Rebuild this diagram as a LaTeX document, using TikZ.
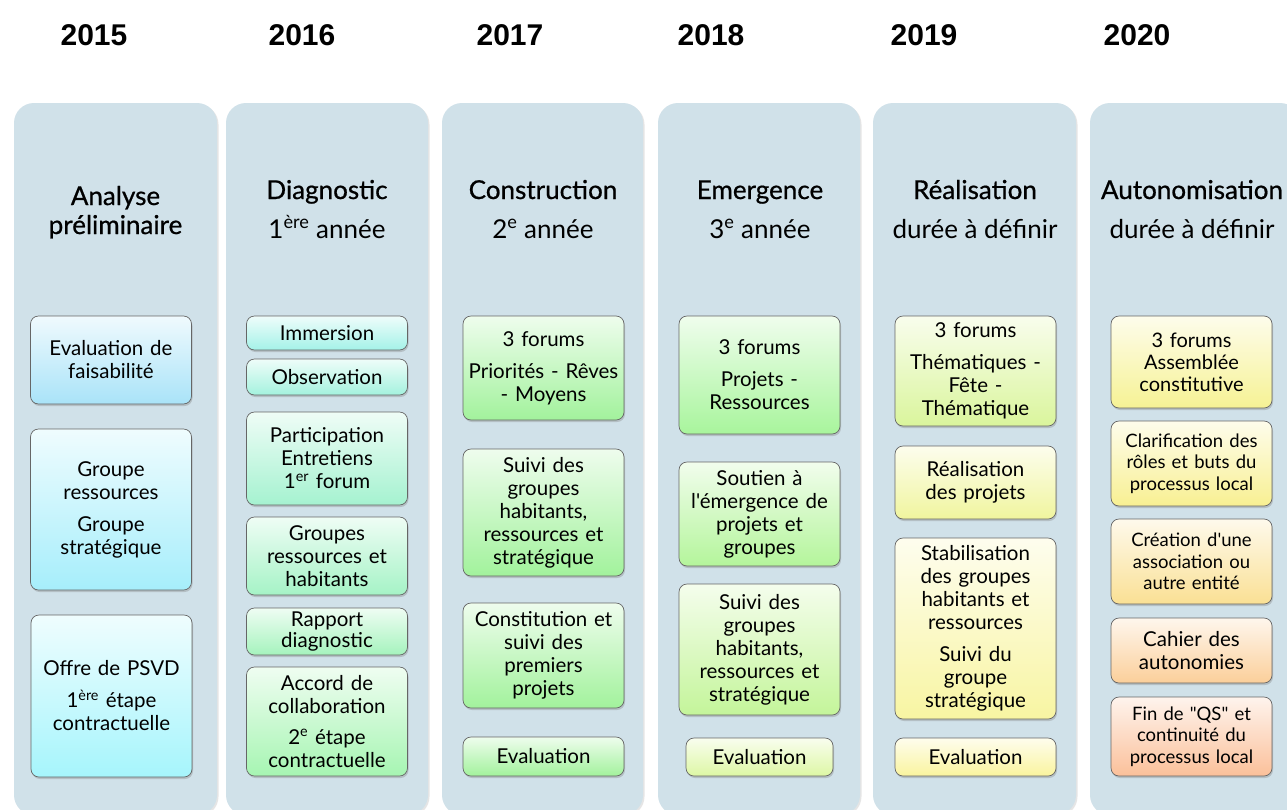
\documentclass[tikz,border=0pt]{standalone}
\usepackage{fontspec}
\setmainfont{Lato}[Ligatures=TeXOff]
\newfontfamily\yearfont{Liberation Sans}
\newfontfamily\titlefont{Lato}[FakeBold=0.7]
\usetikzlibrary{shadows}
\definecolor{panelc}{HTML}{D0E1E9}
\tikzset{
  panel/.style={fill=panelc, rounded corners=20pt, draw=none,
    drop shadow={shadow xshift=1.5pt, shadow yshift=-1.5pt, opacity=0.2}},
  bx/.style={draw=black!60, line width=0.7pt, rounded corners=8pt, align=center,
    inner xsep=2pt, inner ysep=1pt, text width=157pt,
    font=\fontsize{20.5}{23}\selectfont,
    drop shadow={shadow xshift=1pt, shadow yshift=-2pt, opacity=0.35}},
  sm/.style={font=\fontsize{18.5}{21.5}\selectfont},
  g/.style={/utils/exec={\definecolor{boxc}{HTML}{#1}}, top color=boxc!18!white, bottom color=boxc},
  yr/.style={font=\yearfont\bfseries\fontsize{30}{30}\selectfont, anchor=center},
  ttl/.style={font=\titlefont\fontsize{26}{29}\selectfont, anchor=base},
  sub/.style={font=\fontsize{26}{29}\selectfont, anchor=base},
}
\begin{document}
\begin{tikzpicture}[x=1pt, y=-1pt]
\useasboundingbox (0,0) rectangle (1287,809);
\fill[white] (0,0) rectangle (1287,809);
% years
\node[yr] (y1) at (94,35) {2015};
\node[yr] (y2) at (302,35) {2016};
\node[yr] (y3) at (510,35) {2017};
\node[yr] (y4) at (711,35) {2018};
\node[yr] (y5) at (924,35) {2019};
\node[yr] (y6) at (1137,35) {2020};
% panels
\path[panel] (14,103) rectangle (217,815);
\path[panel] (226,103) rectangle (428,815);
\path[panel] (442,103) rectangle (643,815);
\path[panel] (658,103) rectangle (860,815);
\path[panel] (873,103) rectangle (1076,815);
\path[panel] (1090,103) rectangle (1300,815);
% titles
\node[ttl] (t1a) at (115.5,205) {Analyse};
\node[ttl] (t1b) at (115.5,234) {préliminaire};
\node[ttl] (t2) at (327,199) {Diagnostic};
\node[sub] (s2) at (327,238) {1\textsuperscript{ère} année};
\node[ttl] (t3) at (543,199) {Construction};
\node[sub] (s3) at (543,238) {2\textsuperscript{e} année};
\node[ttl] (t4) at (760,199) {Emergence};
\node[sub] (s4) at (760,238) {3\textsuperscript{e} année};
\node[ttl] (t5) at (975,199) {Réalisation};
\node[sub] (s5) at (975,238) {durée à définir};
\node[ttl] (t6) at (1192,199) {Autonomisation};
\node[sub] (s6) at (1192,238) {durée à définir};
% column 1
\node[bx, g=A9E3F8, minimum height=88pt] (a1) at (111,360) {Evaluation de\\faisabilité};
\node[bx, g=A6EEFB, minimum height=161pt] (a2) at (111,509.5) {Groupe\\ressources\\[9pt]Groupe\\stratégique};
\node[bx, g=A6F5FC, minimum height=162pt] (a3) at (111.5,696) {Offre de PSVD\\[9pt]1\textsuperscript{ère} étape\\contractuelle};
% column 2
\node[bx, g=A4F2E8, minimum height=34pt] (b1) at (327,333) {Immersion};
\node[bx, g=A4F2DE, minimum height=36pt] (b2) at (327,377) {Observation};
\node[bx, g=A5F2D0, minimum height=93pt] (b3) at (327,458.5) {Participation\\Entretiens\\1\textsuperscript{er} forum};
\node[bx, g=A5F3C6, minimum height=78pt] (b4) at (327,556) {Groupes\\ressources et\\habitants};
\node[bx, g=A5F3BD, minimum height=47pt, font=\fontsize{20.5}{21}\selectfont] (b5) at (327,631.5) {Rapport\\diagnostic};
\node[bx, g=A6F5B2, minimum height=109pt] (b6) at (327,721.5) {Accord de\\collaboration\\[8pt]2\textsuperscript{e} étape\\contractuelle};
% column 3
\node[bx, g=A2F29C, minimum height=104pt] (c1) at (543.5,368) {3 forums\\[9pt]Priorités - Rêves\\- Moyens};
\node[bx, g=A2F29C, minimum height=127pt] (c2) at (543.5,512.5) {Suivi des\\groupes\\habitants,\\ressources et\\stratégique};
\node[bx, g=A2F29C, minimum height=105pt] (c3) at (543.5,655.5) {Constitution et\\suivi des\\premiers\\projets};
\node[bx, g=A2F29C, minimum height=39pt] (c4) at (543.5,756.5) {Evaluation};
% column 4
\node[bx, g=A8F59C, minimum height=118pt] (d1) at (759.5,375) {3 forums\\[9pt]Projets -\\Ressources};
\node[bx, g=B4F59B, minimum height=104pt] (d2) at (759.5,514) {Soutien à\\l'émergence de\\projets et\\groupes};
\node[bx, g=C4F59A, minimum height=131pt] (d3) at (759.5,649.5) {Suivi des\\groupes\\habitants,\\ressources et\\stratégique};
\node[bx, g=DDF7A4, minimum height=38pt, text width=143pt] (d4) at (759.5,757) {Evaluation};
% column 5
\node[bx, g=DAF59C, minimum height=110pt] (e1) at (975.5,371) {3 forums\\[9pt]Thématiques -\\Fête -\\Thématique};
\node[bx, g=F0F59E, minimum height=73pt] (e2) at (975.5,482.5) {Réalisation\\des projets};
\node[bx, g=F8F5A2, minimum height=181pt] (e3) at (975.5,628.5) {Stabilisation\\des groupes\\habitants et\\ressources\\[9pt]Suivi du\\groupe\\stratégique};
\node[bx, g=FAF49E, minimum height=38pt] (e4) at (975.5,757) {Evaluation};
% column 6
\node[bx, g=F6F294, minimum height=92pt, font=\fontsize{20}{22}\selectfont] (f1) at (1191.5,362) {3 forums\\Assemblée\\constitutive};
\node[bx, g=F8F092, minimum height=85pt, sm] (f2) at (1191.5,463.5) {Clarification des\\rôles et buts du\\processus local};
\node[bx, g=FAE094, minimum height=85pt, sm] (f3) at (1191.5,561.5) {Création d'une\\association ou\\autre entité};
\node[bx, g=FBCF9A, minimum height=65pt] (f4) at (1191.5,650.5) {Cahier des\\autonomies};
\node[bx, g=FBC09A, minimum height=79pt, sm] (f5) at (1191.5,736.5) {Fin de "QS" et\\continuité du\\processus local};
\end{tikzpicture}
\end{document}
